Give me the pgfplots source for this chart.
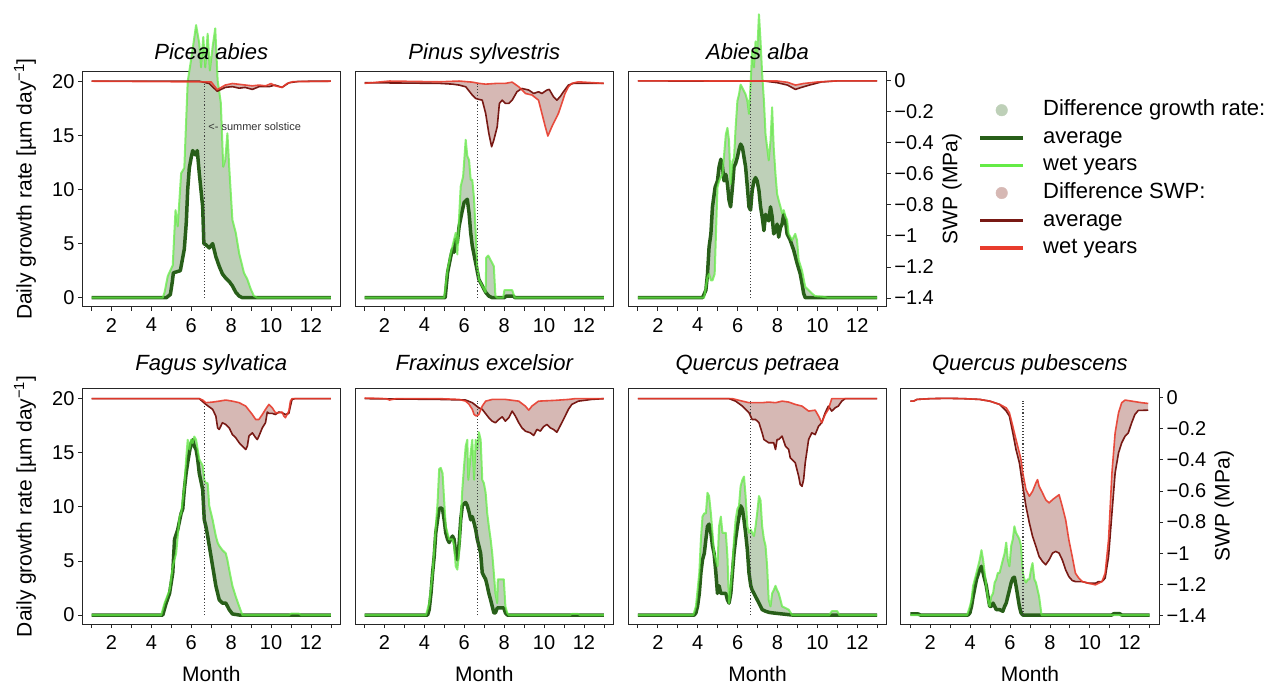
\documentclass[border=0pt]{standalone}
\usepackage{fontspec}
\setmainfont{Liberation Sans}
\usepackage{pgfplots}
\usepackage{pgfplotstable}
\pgfplotsset{compat=1.18}
\usepgfplotslibrary{fillbetween}

\definecolor{gfill}{RGB}{190,208,184}
\definecolor{rfill}{RGB}{214,184,180}
\definecolor{dgreen}{RGB}{40,95,25}
\definecolor{lgreen}{RGB}{100,235,70}
\definecolor{dred}{RGB}{120,25,20}
\definecolor{lred}{RGB}{232,60,45}

% ---------- Picea abies ----------
\pgfplotstableread{
x y
1 0
4.75 0
4.95 0.3
5.05 1.5
5.1 2.3
5.45 2.5
5.55 3.5
5.65 4.5
5.75 7
5.82 10
5.9 12
6.0 13
6.07 13.6
6.2 13.2
6.3 13.6
6.4 11.5
6.57 8.4
6.63 5
6.73 4.9
6.9 4.6
7.07 5
7.23 3.8
7.4 2.9
7.56 2.2
7.73 1.8
7.9 1.5
8.06 1.1
8.23 0.5
8.4 0.15
8.56 0
13 0
}\Aga
\pgfplotstableread{
x y
1 0
4.57 0
4.66 0.5
4.82 2
5.07 3
5.15 6
5.21 8.1
5.32 6.6
5.49 11.5
5.65 12
5.73 15.8
5.82 20
5.99 22
6.24 25.2
6.4 23.5
6.49 21.3
6.6 24.1
6.7 21.3
6.82 24.4
6.93 21
7.07 23.2
7.2 24.9
7.32 20.1
7.48 18
7.6 12.1
7.7 12.7
7.81 15.2
7.9 12.1
8.06 7.2
8.23 6
8.4 4.1
8.64 2.3
8.81 1.7
8.98 0.8
9.14 0.15
9.31 0
13 0
}\Agw
\pgfplotstableread{
x y
1 -0.005
6.4 -0.005
6.9 -0.02
7.3 -0.07
7.7 -0.045
8.06 -0.04
8.4 -0.05
8.7 -0.045
9.06 -0.058
9.4 -0.04
9.9 -0.04
10.2 -0.03
10.55 -0.045
10.9 -0.015
11.4 -0.006
13 -0.005
}\Asa
\pgfplotstableread{
x y
1 -0.005
7.0 -0.01
7.3 -0.06
7.7 -0.03
8.06 -0.02
8.4 -0.025
9.06 -0.035
9.4 -0.03
9.73 -0.035
10.0 -0.02
10.2 -0.035
10.55 -0.045
10.8 -0.02
11.1 -0.008
13 -0.005
}\Asw

% ---------- Pinus sylvestris ----------
\pgfplotstableread{
x y
1 0
5.04 0
5.16 2.3
5.32 3.8
5.41 4.5
5.49 4.2
5.57 5.4
5.65 5.1
5.74 6.6
5.87 7.8
5.99 8.8
6.15 9.1
6.24 7.8
6.32 6
6.40 4.8
6.57 3.2
6.73 1.7
6.90 1.1
7.07 0.5
7.23 0.15
7.40 0
8.0 0
8.1 0.15
8.45 0.15
8.55 0
13 0
}\Bga
\pgfplotstableread{
x y
1 0
4.99 0
5.16 2.6
5.32 4.1
5.49 5.4
5.57 6.0
5.65 4.0
5.74 7.5
5.82 10.3
5.94 11.2
6.07 14.6
6.15 13.1
6.24 12.7
6.32 10.9
6.40 10.9
6.49 9.1
6.57 6.0
6.65 2.9
6.73 1.7
6.90 1.1
7.07 0.5
7.10 3.7
7.20 3.9
7.40 3.2
7.48 2.9
7.56 0.15
7.65 0
7.95 0
8.01 0.7
8.40 0.7
8.53 0
13 0
}\Bgw
\pgfplotstableread{
x y
1 -0.015
4.74 -0.019
5.41 -0.024
5.74 -0.03
6.07 -0.041
6.40 -0.094
6.57 -0.116
6.73 -0.122
6.90 -0.127
7.07 -0.212
7.23 -0.341
7.37 -0.427
7.48 -0.384
7.65 -0.298
7.76 -0.148
7.90 -0.127
8.06 -0.148
8.23 -0.148
8.40 -0.127
8.64 -0.073
8.89 -0.052
9.23 -0.062
9.48 -0.084
9.72 -0.073
9.89 -0.084
10.14 -0.062
10.26 -0.058
10.47 -0.105
10.64 -0.127
10.80 -0.105
10.97 -0.073
11.22 -0.030
11.47 -0.019
13 -0.019
}\Bsa
\pgfplotstableread{
x y
1 -0.019
2.25 -0.004
4.74 -0.009
5.74 -0.004
6.40 -0.011
6.73 -0.019
7.07 -0.024
7.65 -0.019
8.06 -0.019
8.40 -0.011
8.73 -0.041
9.06 -0.084
9.39 -0.094
9.72 -0.127
10.06 -0.298
10.19 -0.358
10.39 -0.298
10.72 -0.212
10.89 -0.148
11.05 -0.084
11.22 -0.041
11.39 -0.019
11.72 -0.009
13 -0.019
}\Bsw

% ---------- Abies alba ----------
\pgfplotstableread{
x y
1 0
4.24 0
4.41 0.7
4.49 2.2
4.57 4.7
4.66 5.9
4.74 8.4
4.87 10.2
4.99 10.8
5.07 12.1
5.16 12.8
5.24 12.1
5.32 10.8
5.41 11.4
5.49 10.5
5.57 9.0
5.65 8.4
5.74 10.2
5.82 12.1
5.90 12.4
5.99 13
6.07 13.7
6.15 14.2
6.24 13.9
6.32 13
6.40 12.1
6.49 10.2
6.57 8.4
6.65 8.1
6.73 9.9
6.82 10.8
6.90 11.1
6.98 10.8
7.07 9.9
7.15 8.4
7.23 7.5
7.32 6.2
7.40 7.7
7.56 7.1
7.65 8.4
7.73 7.5
7.81 5.9
7.90 6.2
7.98 6.8
8.06 5.6
8.15 6.5
8.23 6.8
8.31 7.7
8.40 7.1
8.48 5.9
8.56 5.6
8.64 5.3
8.81 4.4
8.98 3.2
9.14 2.2
9.23 1.3
9.31 0.4
9.39 0
13 0
}\Cga
\pgfplotstableread{
x y
1 0
4.32 0
4.49 1.9
4.57 2.2
4.66 1.6
4.74 1.6
4.85 2.2
4.99 10.2
5.07 10.8
5.24 11.4
5.41 15.1
5.49 15.7
5.57 14.5
5.65 10.5
5.74 12.6
5.82 12.9
5.90 15.7
5.99 18.2
6.07 18.8
6.15 19.7
6.24 19.4
6.32 19.1
6.40 18.8
6.49 18.2
6.57 17.0
6.65 19.7
6.73 22.8
6.82 21.3
6.90 23.7
6.98 22.5
7.07 26.2
7.15 23.7
7.23 20.7
7.32 18.2
7.40 15.1
7.48 13.9
7.56 12.7
7.65 14.5
7.73 17.6
7.81 13.9
7.90 11.4
7.98 9.6
8.06 9.0
8.15 8.4
8.23 7.8
8.31 8.1
8.40 7.5
8.48 7.2
8.56 5.9
8.73 5.3
8.89 5.9
8.98 5.3
9.06 3.5
9.23 2.5
9.39 1.0
9.56 0.7
9.72 0.4
9.89 0.15
10.22 0.1
10.55 0
13 0
}\Cgw
\pgfplotstableread{
x y
1 -0.003
7.4 -0.005
8.0 -0.015
8.5 -0.03
8.9 -0.058
9.2 -0.045
9.6 -0.03
10.2 -0.01
11 -0.003
13 -0.003
}\Csa
\pgfplotstableread{
x y
1 -0.003
8.0 -0.004
8.5 -0.012
8.9 -0.03
9.3 -0.02
10 -0.01
11 -0.003
13 -0.003
}\Csw

% ---------- Fagus sylvatica ----------
\pgfplotstableread{
x y
1 0
4.57 0
4.74 1.1
4.91 2.0
5.07 3.9
5.16 7.0
5.32 7.9
5.49 9.4
5.57 9.8
5.65 11.6
5.74 13.1
5.82 14.1
5.90 15.0
5.99 15.9
6.07 16.2
6.15 15.6
6.24 15.3
6.32 14.4
6.40 13.1
6.57 11.6
6.65 8.8
6.73 8.2
6.82 7.3
6.90 6.4
7.07 4.5
7.23 2.7
7.40 1.4
7.56 1.1
7.73 1.1
7.90 0.5
8.06 0.1
8.40 0
13 0
}\Dga
\pgfplotstableread{
x y
1 0
4.49 0
4.66 1.1
4.91 2.3
5.07 4.5
5.24 5.7
5.41 9.1
5.49 9.4
5.65 11.9
5.74 14.4
5.82 16.2
5.90 15.3
5.99 16.2
6.07 15.9
6.15 16.5
6.24 16.2
6.32 15.3
6.40 14.4
6.57 13.8
6.65 12.5
6.73 12.2
6.82 12.2
6.90 10.1
7.07 8.8
7.23 7.3
7.32 6.7
7.40 6.4
7.56 6.0
7.73 5.7
7.81 5.1
7.90 4.2
8.06 2.7
8.23 1.7
8.40 0.8
8.56 0
10.9 0
11.0 0.12
11.4 0.12
11.5 0
13 0
}\Dgw
\pgfplotstableread{
x y
1 -0.006
6.40 -0.006
6.73 -0.043
7.07 -0.075
7.23 -0.118
7.32 -0.194
7.40 -0.204
7.56 -0.161
7.73 -0.172
7.90 -0.194
8.06 -0.237
8.23 -0.258
8.40 -0.29
8.56 -0.312
8.73 -0.333
8.81 -0.312
8.89 -0.247
9.06 -0.226
9.23 -0.258
9.31 -0.269
9.39 -0.247
9.56 -0.194
9.72 -0.161
9.81 -0.092
9.89 -0.101
10.06 -0.101
10.22 -0.108
10.39 -0.092
10.55 -0.097
10.72 -0.108
10.89 -0.101
10.97 -0.054
11.05 -0.011
11.2 -0.006
13 -0.006
}\Dsa
\pgfplotstableread{
x y
1 -0.006
6.40 -0.006
6.57 -0.015
6.73 -0.032
7.07 -0.028
7.40 -0.022
7.73 -0.015
8.06 -0.022
8.40 -0.032
8.73 -0.054
9.06 -0.108
9.23 -0.14
9.39 -0.14
9.56 -0.108
9.72 -0.075
9.89 -0.043
10.06 -0.065
10.22 -0.097
10.39 -0.097
10.55 -0.092
10.64 -0.118
10.72 -0.129
10.89 -0.086
10.97 -0.022
11.05 -0.006
13 -0.006
}\Dsw

% ---------- Fraxinus excelsior ----------
\pgfplotstableread{
x y
1 0
4.16 0
4.24 0.5
4.33 2.0
4.41 3.9
4.49 5.4
4.57 7.6
4.66 8.8
4.74 9.8
4.82 9.9
4.91 9.8
4.99 8.8
5.07 7.6
5.16 7.0
5.24 6.7
5.32 7.0
5.41 7.3
5.49 7.0
5.57 5.7
5.65 5.1
5.74 6.6
5.82 8.8
5.90 10.1
5.99 10.3
6.07 10.4
6.15 10.1
6.24 9.5
6.32 8.8
6.40 9.1
6.49 8.5
6.57 7.9
6.65 7.0
6.73 6.4
6.82 5.7
6.90 3.9
6.98 3.6
7.07 3.3
7.15 2.7
7.23 2.0
7.32 1.4
7.40 0.8
7.48 0.2
7.56 0.2
7.65 0.65
7.98 0.65
8.06 0.2
8.15 0
13 0
}\Ega
\pgfplotstableread{
x y
1 0
4.08 0
4.24 1.1
4.41 3.9
4.57 8.2
4.66 10.4
4.74 13.5
4.82 13.6
4.91 13.1
4.99 10.6
5.07 8.2
5.24 7.0
5.41 7.0
5.49 6.4
5.57 4.5
5.65 4.2
5.74 5.7
5.82 8.8
5.90 11.6
5.99 13.8
6.07 15.6
6.15 16.2
6.20 12.5
6.27 13.8
6.32 15.0
6.40 16.2
6.49 12.5
6.57 16.2
6.65 15.3
6.73 16.9
6.82 16.2
6.90 12.5
6.98 12.2
7.07 11.3
7.15 9.4
7.23 8.2
7.32 7.0
7.40 5.7
7.48 3.9
7.56 2.0
7.65 1.1
7.68 3.3
7.98 3.3
8.06 0.8
8.15 0.2
8.23 0
11.3 0
11.4 0.1
11.7 0.1
11.8 0
13 0
}\Egw
\pgfplotstableread{
x y
1 -0.006
4.74 -0.011
6.07 -0.015
6.40 -0.032
6.73 -0.065
6.90 -0.075
7.23 -0.129
7.40 -0.151
7.56 -0.161
7.73 -0.14
7.90 -0.123
8.06 -0.151
8.23 -0.129
8.40 -0.086
8.56 -0.118
8.73 -0.161
8.89 -0.194
9.06 -0.215
9.31 -0.226
9.48 -0.243
9.64 -0.204
9.81 -0.215
9.97 -0.187
10.14 -0.172
10.31 -0.194
10.47 -0.204
10.64 -0.222
10.80 -0.183
10.97 -0.14
11.22 -0.075
11.39 -0.043
11.72 -0.022
12.38 -0.011
13 -0.006
}\Esa
\pgfplotstableread{
x y
1 -0.002
2.08 -0.006
2.25 -0.015
2.58 -0.006
4.74 -0.006
5.74 -0.011
6.07 -0.022
6.24 -0.043
6.40 -0.075
6.49 -0.108
6.60 -0.118
6.73 -0.108
6.90 -0.054
7.07 -0.022
7.40 -0.011
8.06 -0.011
8.73 -0.022
9.06 -0.054
9.23 -0.08
9.39 -0.054
9.72 -0.022
10.55 -0.017
11.22 -0.011
11.55 -0.006
13 -0.006
}\Esw

% ---------- Quercus petraea ----------
\pgfplotstableread{
x y
1 0
3.83 0
3.91 0.2
3.99 0.8
4.08 2.0
4.16 3.9
4.24 5.1
4.33 5.7
4.41 7.0
4.49 8.2
4.57 8.4
4.66 7.6
4.74 6.4
4.82 5.7
4.91 3.9
4.99 2.0
5.07 2.7
5.16 2.0
5.41 2.0
5.49 1.4
5.57 1.1
5.66 2.0
5.74 3.9
5.82 5.7
5.90 7.0
5.99 8.2
6.07 9.1
6.15 10.1
6.24 9.8
6.32 8.8
6.40 7.6
6.49 6.0
6.57 3.9
6.66 2.7
6.73 2.3
6.82 2.0
6.90 1.7
7.07 1.1
7.23 0.5
7.40 0.35
7.56 0.25
7.73 0.2
8.73 0
13 0
}\Fga
\pgfplotstableread{
x y
1 0
3.78 0
3.91 0.8
4.08 3.9
4.16 7.0
4.24 9.1
4.33 9.4
4.41 9.4
4.49 11.3
4.57 11.0
4.66 9.4
4.74 7.6
4.82 5.7
4.91 5.1
4.99 4.5
5.07 8.2
5.16 9.1
5.24 7.6
5.41 7.6
5.49 5.4
5.57 1.1
5.66 2.7
5.74 4.5
5.82 7.0
5.90 8.8
5.99 9.8
6.07 10.1
6.15 11.9
6.24 12.5
6.32 12.8
6.40 11.0
6.49 8.2
6.57 7.6
6.66 7.9
6.73 7.6
6.82 7.3
6.90 8.2
6.98 9.4
7.07 11.0
7.15 10.6
7.23 8.2
7.32 7.0
7.40 6.4
7.48 4.5
7.56 1.4
7.65 0.8
7.73 2.0
7.81 2.3
7.90 2.7
7.98 2.3
8.06 2.0
8.15 1.4
8.23 0.8
8.40 0.65
8.56 0.5
8.73 0
10.6 0
10.72 0.35
11.0 0.35
11.1 0
13 0
}\Fgw
\pgfplotstableread{
x y
1 -0.006
5.57 -0.006
5.90 -0.022
6.24 -0.054
6.57 -0.097
6.73 -0.140
6.90 -0.140
7.07 -0.161
7.23 -0.226
7.32 -0.269
7.56 -0.290
7.81 -0.290
7.90 -0.333
7.98 -0.269
8.06 -0.269
8.23 -0.247
8.40 -0.312
8.56 -0.333
8.64 -0.387
8.73 -0.398
8.89 -0.419
9.06 -0.505
9.14 -0.559
9.23 -0.570
9.31 -0.527
9.39 -0.419
9.56 -0.269
9.72 -0.226
9.89 -0.237
10.06 -0.183
10.22 -0.161
10.39 -0.097
10.55 -0.054
10.72 -0.086
10.89 -0.065
11.05 -0.054
11.22 -0.022
11.39 -0.006
13 -0.006
}\Fsa
\pgfplotstableread{
x y
1 -0.006
5.74 -0.006
5.90 -0.011
6.24 -0.022
6.57 -0.032
6.90 -0.032
7.23 -0.032
7.56 -0.028
7.90 -0.032
8.23 -0.022
8.56 -0.028
8.89 -0.043
9.23 -0.054
9.56 -0.086
9.89 -0.080
10.06 -0.118
10.22 -0.161
10.39 -0.108
10.55 -0.075
10.72 -0.006
11.39 -0.006
13 -0.006
}\Fsw

% ---------- Quercus pubescens ----------
\pgfplotstableread{
x y
1 0.1
1.4 0.1
1.5 0
3.90 0
3.99 0.2
4.07 0.8
4.15 1.7
4.32 3.3
4.48 4.2
4.57 4.5
4.65 3.9
4.73 3.3
4.81 2.7
4.90 1.7
4.98 0.8
5.06 0.8
5.15 1.1
5.23 0.8
5.31 0.5
5.48 0.5
5.64 0.35
5.73 0.8
5.81 1.1
5.89 1.7
5.97 2.3
6.06 3.0
6.14 3.4
6.22 3.5
6.30 2.7
6.39 1.7
6.47 0.8
6.55 0.2
6.64 0
11.1 0
11.2 0.12
11.5 0.12
11.6 0
13 0
}\Gga
\pgfplotstableread{
x y
1 0
3.85 0
3.99 0.8
4.07 1.4
4.15 2.7
4.32 3.9
4.48 5.1
4.57 6.0
4.65 5.1
4.73 3.9
4.81 2.7
4.90 1.4
4.98 0.8
5.06 1.7
5.15 2.0
5.23 3.0
5.31 3.3
5.39 3.9
5.48 3.9
5.56 4.5
5.64 5.1
5.73 5.7
5.81 6.7
5.89 5.1
5.97 4.5
6.06 6.4
6.14 7.0
6.22 8.2
6.30 7.6
6.39 7.3
6.47 7.0
6.55 6.4
6.64 3.9
6.72 3.3
6.80 3.0
6.89 3.3
6.97 3.3
7.05 4.2
7.13 4.8
7.22 3.3
7.30 3.0
7.46 1.7
7.58 0
13 0
}\Ggw
\pgfplotstableread{
x y
1 -0.022
1.17 -0.022
1.34 -0.011
2.0 -0.006
2.83 -0.004
3.66 -0.006
4.48 -0.011
4.98 -0.022
5.48 -0.043
5.81 -0.086
5.97 -0.118
6.14 -0.226
6.30 -0.333
6.47 -0.419
6.64 -0.570
6.80 -0.699
6.97 -0.806
7.13 -0.892
7.30 -0.957
7.46 -1.022
7.63 -1.054
7.79 -1.075
7.96 -1.043
8.13 -1.000
8.29 -0.989
8.46 -1.000
8.62 -1.043
8.79 -1.108
8.95 -1.151
9.12 -1.176
9.28 -1.183
9.62 -1.183
9.95 -1.194
10.28 -1.194
10.44 -1.183
10.61 -1.183
10.77 -1.161
10.94 -1.022
11.11 -0.742
11.27 -0.484
11.44 -0.355
11.60 -0.290
11.77 -0.247
11.93 -0.226
12.10 -0.161
12.26 -0.108
12.43 -0.082
12.93 -0.080
}\Gsa
\pgfplotstableread{
x y
1 -0.022
1.17 -0.022
1.34 -0.011
2.0 -0.006
2.83 -0.004
3.66 -0.006
4.48 -0.011
4.98 -0.022
5.48 -0.043
5.81 -0.065
5.97 -0.097
6.14 -0.183
6.30 -0.269
6.47 -0.355
6.55 -0.398
6.64 -0.484
6.80 -0.591
6.97 -0.634
7.13 -0.602
7.30 -0.548
7.38 -0.527
7.46 -0.570
7.63 -0.613
7.79 -0.656
7.96 -0.677
8.13 -0.656
8.46 -0.624
8.62 -0.699
8.79 -0.785
8.95 -0.914
9.12 -1.022
9.28 -1.129
9.45 -1.161
9.62 -1.183
9.95 -1.194
10.28 -1.204
10.44 -1.194
10.61 -1.183
10.77 -1.129
10.94 -0.914
11.11 -0.484
11.27 -0.226
11.44 -0.097
11.60 -0.032
11.77 -0.015
12.10 -0.022
12.60 -0.032
12.93 -0.037
}\Gsw

\pgfplotsset{
  panel/.style={
    scale only axis, width=258.5pt, height=235.3pt,
    xmin=0.52, xmax=13.48, clip=false,
    axis line style={line width=0.9pt, black!85},
    tick style={line width=0.8pt, black!85},
    tick align=outside, major tick length=4pt,
    tick label style={font=\fontsize{20}{20}\selectfont},
    /pgf/number format/assume math mode=true,
  },
  growth/.style={panel,
    ymin=-0.83, ymax=20.92,
    xtick={1,2,3,4,5,6,7,8,9,10,11,12,13},
    xticklabels={,2,,4,,6,,8,,10,,12,},
    xticklabel style={yshift=-4pt},
    xtick pos=left,
    ytick=\empty,
    title style={at={(0.5,1)}, anchor=base, yshift=5.5pt,
      font=\itshape\fontsize{22}{22}\selectfont},
  },
  leftlab/.style={
    ytick={0,5,10,15,20}, yticklabels={0,5,10,15,20}, ytick pos=left,
    ylabel={Daily growth rate [µm day\textsuperscript{−1}]},
    ylabel style={at={(rel axis cs:-0.2205,0.5)}, anchor=center,
      font=\fontsize{21}{21}\selectfont},
  },
  monthlab/.style={
    xlabel={Month},
    xlabel style={at={(rel axis cs:0.5,-0.2115)}, anchor=center,
      font=\fontsize{21}{21}\selectfont},
  },
  swp/.style={panel,
    ymin=-1.456, ymax=0.058, hide x axis,
  },
  swpright/.style={
    axis y line*=right,
    ytick={-1.4,-1.2,-1,-0.8,-0.6,-0.4,-0.2,0},
    yticklabels={−1.4,−1.2,−1,−0.8,−0.6,−0.4,−0.2,0},
    ylabel={SWP (MPa)},
    ylabel style={at={(rel axis cs:1.2515,0.5)}, anchor=center,
      font=\fontsize{21}{21}\selectfont},
  },
}

\newcommand{\GP}[3]{%
  \addplot[draw=none, name path=ga#3] table {#1};
  \addplot[draw=none, name path=gw#3] table {#2};
  \addplot[gfill] fill between[of=ga#3 and gw#3];
  \addplot[dgreen, line width=3.5pt, line join=round] table {#1};
  \addplot[lgreen, line width=2pt, line join=round, opacity=0.75] table {#2};
  \addplot[black!75, dotted, line width=1.1pt] coordinates {(6.65,0) (6.65,19.8)};
}
\newcommand{\SP}[3]{%
  \addplot[draw=none, name path=sa#3] table {#1};
  \addplot[draw=none, name path=sw#3] table {#2};
  \addplot[rfill] fill between[of=sa#3 and sw#3];
  \addplot[dred, line width=1.6pt, line join=round] table {#1};
  \addplot[lred, line width=1.6pt, line join=round, opacity=0.9] table {#2};
}

\begin{document}
\begin{tikzpicture}
\path (0pt,0pt) rectangle (1280pt,686pt);

% ===== top row =====
\begin{axis}[growth, leftlab, at={(82pt,379.3pt)}, title={Picea abies}]
  \GP{\Aga}{\Agw}{A}
  \node[anchor=west, black!80, font=\fontsize{11}{11}\selectfont] at (axis cs:6.68,15.8) {<- summer solstice};
\end{axis}
\begin{axis}[swp, hide y axis, at={(82pt,379.3pt)}]
  \SP{\Asa}{\Asw}{A}
\end{axis}

\begin{axis}[growth, at={(355pt,379.3pt)}, title={Pinus sylvestris}]
  \GP{\Bga}{\Bgw}{B}
\end{axis}
\begin{axis}[swp, hide y axis, at={(355pt,379.3pt)}]
  \SP{\Bsa}{\Bsw}{B}
\end{axis}

\begin{axis}[growth, at={(628.3pt,379.3pt)}, title={Abies alba}]
  \GP{\Cga}{\Cgw}{C}
\end{axis}
\begin{axis}[swp, swpright, at={(628.3pt,379.3pt)}]
  \SP{\Csa}{\Csw}{C}
\end{axis}

% ===== bottom row =====
\begin{axis}[growth, leftlab, monthlab, at={(82pt,62pt)}, title={Fagus sylvatica}, title style={yshift=6.5pt}]
  \GP{\Dga}{\Dgw}{D}
\end{axis}
\begin{axis}[swp, hide y axis, at={(82pt,62pt)}]
  \SP{\Dsa}{\Dsw}{D}
\end{axis}

\begin{axis}[growth, monthlab, at={(355pt,62pt)}, title={Fraxinus excelsior}, title style={yshift=6.5pt}]
  \GP{\Ega}{\Egw}{E}
\end{axis}
\begin{axis}[swp, hide y axis, at={(355pt,62pt)}]
  \SP{\Esa}{\Esw}{E}
\end{axis}

\begin{axis}[growth, monthlab, at={(628.3pt,62pt)}, title={Quercus petraea}, title style={yshift=6.5pt}]
  \GP{\Fga}{\Fgw}{F}
\end{axis}
\begin{axis}[swp, hide y axis, at={(628.3pt,62pt)}]
  \SP{\Fsa}{\Fsw}{F}
\end{axis}

\begin{axis}[growth, monthlab, at={(900.7pt,62pt)}, title={Quercus pubescens}, title style={yshift=6.5pt}]
  \GP{\Gga}{\Ggw}{G}
\end{axis}
\begin{axis}[swp, swpright, at={(900.7pt,62pt)}]
  \SP{\Gsa}{\Gsw}{G}
\end{axis}

% ===== legend =====
\begin{axis}[hide axis, scale only axis, width=100pt, height=160pt,
  at={(978pt,428.5pt)}, xmin=0, xmax=1, ymin=0, ymax=1,
  legend cell align=left,
  legend style={at={(0,1)}, anchor=north west, draw=none, fill=none,
    inner sep=0pt, column sep=16pt, row sep=2.6pt,
    font=\fontsize{22}{22}\selectfont,
    nodes={inner sep=2pt, text height=16pt, text depth=5pt}},
]
  \addplot[draw=none, forget plot] coordinates {(0,0) (1,1)};
  \addlegendimage{legend image code/.code={\fill[gfill] (21.5pt,0pt) circle (5.8pt);}}
  \addlegendentry{Difference growth rate:}
  \addlegendimage{legend image code/.code={\draw[dgreen, line width=4pt] (0pt,0pt) -- (43pt,0pt);}}
  \addlegendentry{average}
  \addlegendimage{legend image code/.code={\draw[lgreen, line width=3.5pt] (0pt,0pt) -- (43pt,0pt);}}
  \addlegendentry{wet years}
  \addlegendimage{legend image code/.code={\fill[rfill] (21.5pt,0pt) circle (5.8pt);}}
  \addlegendentry{Difference SWP:}
  \addlegendimage{legend image code/.code={\draw[dred, line width=3pt] (0pt,0pt) -- (43pt,0pt);}}
  \addlegendentry{average}
  \addlegendimage{legend image code/.code={\draw[lred, line width=3.5pt] (0pt,0pt) -- (43pt,0pt);}}
  \addlegendentry{wet years}
\end{axis}
\end{tikzpicture}
\end{document}
